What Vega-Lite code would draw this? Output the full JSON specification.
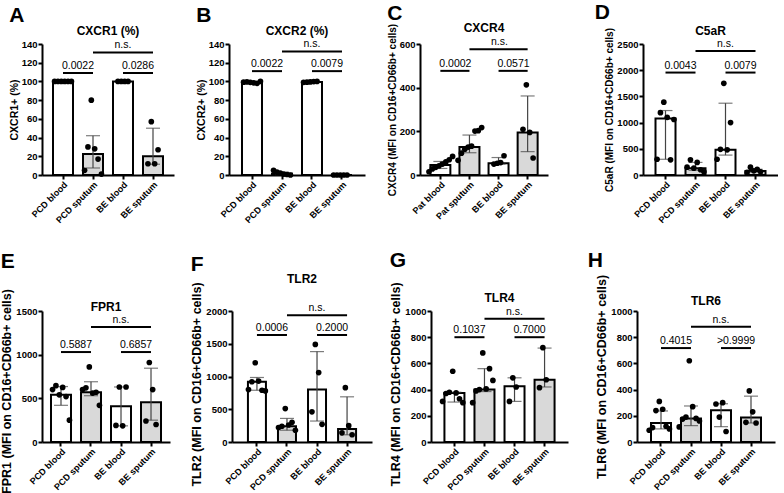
{
"$schema": "https://vega.github.io/schema/vega-lite/v6.json",
"background": "white",
"padding": {"left": 0, "top": 1, "right": 0, "bottom": 0},
"config": {
  "font": "Liberation Sans",
  "view": {"stroke": null},
  "axis": {"grid": false, "domainColor": "black", "domainWidth": 2, "tickColor": "black", "tickWidth": 2, "tickSize": 4, "labelColor": "black", "labelFont": "Liberation Sans", "labelFontWeight": "bold", "labelFontSize": 9.5, "labelPadding": 1, "titleColor": "black", "titleFont": "Liberation Sans", "titleFontWeight": "bold", "titleFontSize": 10.5, "titlePadding": 2},
  "axisX": {"labelAngle": -45, "labelFontSize": 9},
  "title": {"font": "Liberation Sans", "fontWeight": "bold", "color": "black"},
  "text": {"font": "Liberation Sans", "color": "black"}
},
"data": {"values": [
{"p":"A","k":"bar","g":"PCD blood","t":"blood","v":100,"lo":100,"hi":100},
{"p":"A","k":"bar","g":"PCD sputum","t":"sputum","v":22.5,"lo":7.5,"hi":42},
{"p":"A","k":"bar","g":"BE blood","t":"blood","v":100,"lo":100,"hi":100},
{"p":"A","k":"bar","g":"BE sputum","t":"sputum","v":20,"lo":11.5,"hi":50},
{"p":"A","k":"pt","g":"PCD blood","r":"1","v":100},{"p":"A","k":"pt","g":"PCD blood","r":"2","v":100},{"p":"A","k":"pt","g":"PCD blood","r":"3","v":100},{"p":"A","k":"pt","g":"PCD blood","r":"4","v":100},{"p":"A","k":"pt","g":"PCD blood","r":"5","v":100},{"p":"A","k":"pt","g":"PCD blood","r":"6","v":100},
{"p":"A","k":"pt","g":"PCD sputum","r":"1","v":80},{"p":"A","k":"pt","g":"PCD sputum","r":"2","v":28},{"p":"A","k":"pt","g":"PCD sputum","r":"3","v":30},{"p":"A","k":"pt","g":"PCD sputum","r":"4","v":17},{"p":"A","k":"pt","g":"PCD sputum","r":"5","v":5},{"p":"A","k":"pt","g":"PCD sputum","r":"6","v":1},
{"p":"A","k":"pt","g":"BE blood","r":"1","v":100},{"p":"A","k":"pt","g":"BE blood","r":"2","v":100},{"p":"A","k":"pt","g":"BE blood","r":"3","v":100},{"p":"A","k":"pt","g":"BE blood","r":"4","v":100},
{"p":"A","k":"pt","g":"BE sputum","r":"1","v":57},{"p":"A","k":"pt","g":"BE sputum","r":"2","v":12},{"p":"A","k":"pt","g":"BE sputum","r":"3","v":12},{"p":"A","k":"pt","g":"BE sputum","r":"4","v":27},
{"p":"A","k":"brk","g":"PCD blood","g2":"PCD sputum","v":109,"lab":"0.0022","s":"pair"},
{"p":"A","k":"brk","g":"BE blood","g2":"BE sputum","v":109,"lab":"0.0286","s":"pair"},
{"p":"A","k":"brk","g":"PCD sputum","g2":"BE sputum","v":131,"lab":"n.s.","s":"ns"},

{"p":"B","k":"bar","g":"PCD blood","t":"blood","v":99,"lo":98.5,"hi":99.5},
{"p":"B","k":"bar","g":"PCD sputum","t":"sputum","v":1.5,"lo":0.5,"hi":3},
{"p":"B","k":"bar","g":"BE blood","t":"blood","v":99.5,"lo":99,"hi":100},
{"p":"B","k":"bar","g":"BE sputum","t":"sputum","v":0,"lo":0,"hi":0},
{"p":"B","k":"pt","g":"PCD blood","r":"1","v":99},{"p":"B","k":"pt","g":"PCD blood","r":"2","v":98.5},{"p":"B","k":"pt","g":"PCD blood","r":"3","v":99.5},{"p":"B","k":"pt","g":"PCD blood","r":"4","v":98},{"p":"B","k":"pt","g":"PCD blood","r":"5","v":99.2},{"p":"B","k":"pt","g":"PCD blood","r":"6","v":100},
{"p":"B","k":"pt","g":"PCD sputum","r":"1","v":2},{"p":"B","k":"pt","g":"PCD sputum","r":"2","v":1},{"p":"B","k":"pt","g":"PCD sputum","r":"3","v":3},{"p":"B","k":"pt","g":"PCD sputum","r":"4","v":0.5},{"p":"B","k":"pt","g":"PCD sputum","r":"5","v":5},{"p":"B","k":"pt","g":"PCD sputum","r":"6","v":0},
{"p":"B","k":"pt","g":"BE blood","r":"1","v":99.5},{"p":"B","k":"pt","g":"BE blood","r":"2","v":99.8},{"p":"B","k":"pt","g":"BE blood","r":"3","v":99.2},{"p":"B","k":"pt","g":"BE blood","r":"4","v":100},{"p":"B","k":"pt","g":"BE blood","r":"5","v":99},
{"p":"B","k":"pt","g":"BE sputum","r":"1","v":0},{"p":"B","k":"pt","g":"BE sputum","r":"2","v":0},{"p":"B","k":"pt","g":"BE sputum","r":"3","v":0},{"p":"B","k":"pt","g":"BE sputum","r":"4","v":0},{"p":"B","k":"pt","g":"BE sputum","r":"5","v":0},
{"p":"B","k":"brk","g":"PCD blood","g2":"PCD sputum","v":111,"lab":"0.0022","s":"pair"},
{"p":"B","k":"brk","g":"BE blood","g2":"BE sputum","v":111,"lab":"0.0079","s":"pair"},
{"p":"B","k":"brk","g":"PCD sputum","g2":"BE sputum","v":132,"lab":"n.s.","s":"ns"},

{"p":"C","k":"bar","g":"Pat blood","t":"blood","v":46,"lo":30,"hi":62},
{"p":"C","k":"bar","g":"Pat sputum","t":"sputum","v":128,"lo":102,"hi":183},
{"p":"C","k":"bar","g":"BE blood","t":"blood","v":54,"lo":50,"hi":80},
{"p":"C","k":"bar","g":"BE sputum","t":"sputum","v":195,"lo":107,"hi":362},
{"p":"C","k":"pt","g":"Pat blood","r":"1","v":42},{"p":"C","k":"pt","g":"Pat blood","r":"2","v":50},{"p":"C","k":"pt","g":"Pat blood","r":"3","v":35},{"p":"C","k":"pt","g":"Pat blood","r":"4","v":60},{"p":"C","k":"pt","g":"Pat blood","r":"5","v":28},{"p":"C","k":"pt","g":"Pat blood","r":"6","v":70},{"p":"C","k":"pt","g":"Pat blood","r":"7","v":15},{"p":"C","k":"pt","g":"Pat blood","r":"8","v":85},
{"p":"C","k":"pt","g":"Pat sputum","r":"1","v":128},{"p":"C","k":"pt","g":"Pat sputum","r":"2","v":132},{"p":"C","k":"pt","g":"Pat sputum","r":"3","v":118},{"p":"C","k":"pt","g":"Pat sputum","r":"4","v":201},{"p":"C","k":"pt","g":"Pat sputum","r":"5","v":100},{"p":"C","k":"pt","g":"Pat sputum","r":"6","v":203},{"p":"C","k":"pt","g":"Pat sputum","r":"7","v":67},{"p":"C","k":"pt","g":"Pat sputum","r":"8","v":217},
{"p":"C","k":"pt","g":"BE blood","r":"1","v":54},{"p":"C","k":"pt","g":"BE blood","r":"2","v":57},{"p":"C","k":"pt","g":"BE blood","r":"3","v":50},{"p":"C","k":"pt","g":"BE blood","r":"4","v":88},
{"p":"C","k":"pt","g":"BE sputum","r":"1","v":413},{"p":"C","k":"pt","g":"BE sputum","r":"2","v":195},{"p":"C","k":"pt","g":"BE sputum","r":"3","v":209},{"p":"C","k":"pt","g":"BE sputum","r":"4","v":78},
{"p":"C","k":"brk","g":"Pat blood","g2":"Pat sputum","v":477,"lab":"0.0002","s":"pair"},
{"p":"C","k":"brk","g":"BE blood","g2":"BE sputum","v":477,"lab":"0.0571","s":"pair"},
{"p":"C","k":"brk","g":"Pat sputum","g2":"BE sputum","v":576,"lab":"n.s.","s":"ns"},

{"p":"D","k":"bar","g":"PCD blood","t":"blood","v":1080,"lo":300,"hi":1230},
{"p":"D","k":"bar","g":"PCD sputum","t":"sputum","v":128,"lo":90,"hi":240},
{"p":"D","k":"bar","g":"BE blood","t":"blood","v":480,"lo":380,"hi":1370},
{"p":"D","k":"bar","g":"BE sputum","t":"sputum","v":77,"lo":55,"hi":110},
{"p":"D","k":"pt","g":"PCD blood","r":"1","v":1390},{"p":"D","k":"pt","g":"PCD blood","r":"2","v":1100},{"p":"D","k":"pt","g":"PCD blood","r":"3","v":1190},{"p":"D","k":"pt","g":"PCD blood","r":"4","v":290},{"p":"D","k":"pt","g":"PCD blood","r":"5","v":300},{"p":"D","k":"pt","g":"PCD blood","r":"6","v":1060},
{"p":"D","k":"pt","g":"PCD sputum","r":"1","v":130},{"p":"D","k":"pt","g":"PCD sputum","r":"2","v":240},{"p":"D","k":"pt","g":"PCD sputum","r":"3","v":290},{"p":"D","k":"pt","g":"PCD sputum","r":"4","v":100},{"p":"D","k":"pt","g":"PCD sputum","r":"5","v":150},{"p":"D","k":"pt","g":"PCD sputum","r":"6","v":60},
{"p":"D","k":"pt","g":"BE blood","r":"1","v":1750},{"p":"D","k":"pt","g":"BE blood","r":"2","v":480},{"p":"D","k":"pt","g":"BE blood","r":"3","v":490},{"p":"D","k":"pt","g":"BE blood","r":"4","v":1000},{"p":"D","k":"pt","g":"BE blood","r":"5","v":300},
{"p":"D","k":"pt","g":"BE sputum","r":"1","v":80},{"p":"D","k":"pt","g":"BE sputum","r":"2","v":110},{"p":"D","k":"pt","g":"BE sputum","r":"3","v":150},{"p":"D","k":"pt","g":"BE sputum","r":"4","v":60},{"p":"D","k":"pt","g":"BE sputum","r":"5","v":50},
{"p":"D","k":"brk","g":"PCD blood","g2":"PCD sputum","v":1955,"lab":"0.0043","s":"pair"},
{"p":"D","k":"brk","g":"BE blood","g2":"BE sputum","v":1955,"lab":"0.0079","s":"pair"},
{"p":"D","k":"brk","g":"PCD sputum","g2":"BE sputum","v":2365,"lab":"n.s.","s":"ns"},

{"p":"E","k":"bar","g":"PCD blood","t":"blood","v":540,"lo":420,"hi":635},
{"p":"E","k":"bar","g":"PCD sputum","t":"sputum","v":570,"lo":530,"hi":690},
{"p":"E","k":"bar","g":"BE blood","t":"blood","v":410,"lo":185,"hi":630},
{"p":"E","k":"bar","g":"BE sputum","t":"sputum","v":455,"lo":250,"hi":845},
{"p":"E","k":"pt","g":"PCD blood","r":"1","v":540},{"p":"E","k":"pt","g":"PCD blood","r":"2","v":625},{"p":"E","k":"pt","g":"PCD blood","r":"3","v":645},{"p":"E","k":"pt","g":"PCD blood","r":"4","v":520},{"p":"E","k":"pt","g":"PCD blood","r":"5","v":600},{"p":"E","k":"pt","g":"PCD blood","r":"6","v":250},
{"p":"E","k":"pt","g":"PCD sputum","r":"1","v":860},{"p":"E","k":"pt","g":"PCD sputum","r":"2","v":560},{"p":"E","k":"pt","g":"PCD sputum","r":"3","v":620},{"p":"E","k":"pt","g":"PCD sputum","r":"4","v":570},{"p":"E","k":"pt","g":"PCD sputum","r":"5","v":600},{"p":"E","k":"pt","g":"PCD sputum","r":"6","v":420},
{"p":"E","k":"pt","g":"BE blood","r":"1","v":630},{"p":"E","k":"pt","g":"BE blood","r":"2","v":185},{"p":"E","k":"pt","g":"BE blood","r":"3","v":190},{"p":"E","k":"pt","g":"BE blood","r":"4","v":630},
{"p":"E","k":"pt","g":"BE sputum","r":"1","v":910},{"p":"E","k":"pt","g":"BE sputum","r":"2","v":600},{"p":"E","k":"pt","g":"BE sputum","r":"3","v":240},{"p":"E","k":"pt","g":"BE sputum","r":"4","v":200},
{"p":"E","k":"brk","g":"PCD blood","g2":"PCD sputum","v":1030,"lab":"0.5887","s":"pair"},
{"p":"E","k":"brk","g":"BE blood","g2":"BE sputum","v":1030,"lab":"0.6857","s":"pair"},
{"p":"E","k":"brk","g":"PCD sputum","g2":"BE sputum","v":1317,"lab":"n.s.","s":"ns"},

{"p":"F","k":"bar","g":"PCD blood","t":"blood","v":920,"lo":790,"hi":985},
{"p":"F","k":"bar","g":"PCD sputum","t":"sputum","v":240,"lo":180,"hi":360},
{"p":"F","k":"bar","g":"BE blood","t":"blood","v":800,"lo":320,"hi":1380},
{"p":"F","k":"bar","g":"BE sputum","t":"sputum","v":200,"lo":110,"hi":690},
{"p":"F","k":"pt","g":"PCD blood","r":"1","v":1210},{"p":"F","k":"pt","g":"PCD blood","r":"2","v":930},{"p":"F","k":"pt","g":"PCD blood","r":"3","v":920},{"p":"F","k":"pt","g":"PCD blood","r":"4","v":790},{"p":"F","k":"pt","g":"PCD blood","r":"5","v":800},{"p":"F","k":"pt","g":"PCD blood","r":"6","v":780},
{"p":"F","k":"pt","g":"PCD sputum","r":"1","v":510},{"p":"F","k":"pt","g":"PCD sputum","r":"2","v":260},{"p":"F","k":"pt","g":"PCD sputum","r":"3","v":240},{"p":"F","k":"pt","g":"PCD sputum","r":"4","v":300},{"p":"F","k":"pt","g":"PCD sputum","r":"5","v":220},{"p":"F","k":"pt","g":"PCD sputum","r":"6","v":180},
{"p":"F","k":"pt","g":"BE blood","r":"1","v":1490},{"p":"F","k":"pt","g":"BE blood","r":"2","v":1060},{"p":"F","k":"pt","g":"BE blood","r":"3","v":460},{"p":"F","k":"pt","g":"BE blood","r":"4","v":270},
{"p":"F","k":"pt","g":"BE sputum","r":"1","v":830},{"p":"F","k":"pt","g":"BE sputum","r":"2","v":250},{"p":"F","k":"pt","g":"BE sputum","r":"3","v":140},{"p":"F","k":"pt","g":"BE sputum","r":"4","v":110},
{"p":"F","k":"brk","g":"PCD blood","g2":"PCD sputum","v":1634,"lab":"0.0006","s":"pair"},
{"p":"F","k":"brk","g":"BE blood","g2":"BE sputum","v":1634,"lab":"0.2000","s":"pair"},
{"p":"F","k":"brk","g":"PCD sputum","g2":"BE sputum","v":1934,"lab":"n.s.","s":"ns"},

{"p":"G","k":"bar","g":"PCD blood","t":"blood","v":375,"lo":305,"hi":380},
{"p":"G","k":"bar","g":"PCD sputum","t":"sputum","v":400,"lo":385,"hi":560},
{"p":"G","k":"bar","g":"BE blood","t":"blood","v":425,"lo":310,"hi":490},
{"p":"G","k":"bar","g":"BE sputum","t":"sputum","v":475,"lo":420,"hi":717},
{"p":"G","k":"pt","g":"PCD blood","r":"1","v":540},{"p":"G","k":"pt","g":"PCD blood","r":"2","v":375},{"p":"G","k":"pt","g":"PCD blood","r":"3","v":380},{"p":"G","k":"pt","g":"PCD blood","r":"4","v":330},{"p":"G","k":"pt","g":"PCD blood","r":"5","v":370},{"p":"G","k":"pt","g":"PCD blood","r":"6","v":300},{"p":"G","k":"pt","g":"PCD blood","r":"7","v":310},
{"p":"G","k":"pt","g":"PCD sputum","r":"1","v":680},{"p":"G","k":"pt","g":"PCD sputum","r":"2","v":405},{"p":"G","k":"pt","g":"PCD sputum","r":"3","v":400},{"p":"G","k":"pt","g":"PCD sputum","r":"4","v":560},{"p":"G","k":"pt","g":"PCD sputum","r":"5","v":390},{"p":"G","k":"pt","g":"PCD sputum","r":"6","v":470},{"p":"G","k":"pt","g":"PCD sputum","r":"7","v":300},
{"p":"G","k":"pt","g":"BE blood","r":"1","v":490},{"p":"G","k":"pt","g":"BE blood","r":"2","v":420},{"p":"G","k":"pt","g":"BE blood","r":"3","v":310},
{"p":"G","k":"pt","g":"BE sputum","r":"1","v":720},{"p":"G","k":"pt","g":"BE sputum","r":"2","v":475},{"p":"G","k":"pt","g":"BE sputum","r":"3","v":415},
{"p":"G","k":"brk","g":"PCD blood","g2":"PCD sputum","v":800,"lab":"0.1037","s":"pair"},
{"p":"G","k":"brk","g":"BE blood","g2":"BE sputum","v":800,"lab":"0.7000","s":"pair"},
{"p":"G","k":"brk","g":"PCD sputum","g2":"BE sputum","v":941,"lab":"n.s.","s":"ns"},

{"p":"H","k":"bar","g":"PCD blood","t":"blood","v":145,"lo":100,"hi":237},
{"p":"H","k":"bar","g":"PCD sputum","t":"sputum","v":180,"lo":125,"hi":275},
{"p":"H","k":"bar","g":"BE blood","t":"blood","v":242,"lo":117,"hi":292},
{"p":"H","k":"bar","g":"BE sputum","t":"sputum","v":187,"lo":145,"hi":350},
{"p":"H","k":"pt","g":"PCD blood","r":"1","v":310},{"p":"H","k":"pt","g":"PCD blood","r":"2","v":250},{"p":"H","k":"pt","g":"PCD blood","r":"3","v":240},{"p":"H","k":"pt","g":"PCD blood","r":"4","v":120},{"p":"H","k":"pt","g":"PCD blood","r":"5","v":110},{"p":"H","k":"pt","g":"PCD blood","r":"6","v":100},{"p":"H","k":"pt","g":"PCD blood","r":"7","v":90},
{"p":"H","k":"pt","g":"PCD sputum","r":"1","v":620},{"p":"H","k":"pt","g":"PCD sputum","r":"2","v":270},{"p":"H","k":"pt","g":"PCD sputum","r":"3","v":190},{"p":"H","k":"pt","g":"PCD sputum","r":"4","v":180},{"p":"H","k":"pt","g":"PCD sputum","r":"5","v":175},{"p":"H","k":"pt","g":"PCD sputum","r":"6","v":160},{"p":"H","k":"pt","g":"PCD sputum","r":"7","v":115},
{"p":"H","k":"pt","g":"BE blood","r":"1","v":190},{"p":"H","k":"pt","g":"BE blood","r":"2","v":300},{"p":"H","k":"pt","g":"BE blood","r":"3","v":290},{"p":"H","k":"pt","g":"BE blood","r":"4","v":80},
{"p":"H","k":"pt","g":"BE sputum","r":"1","v":390},{"p":"H","k":"pt","g":"BE sputum","r":"2","v":230},{"p":"H","k":"pt","g":"BE sputum","r":"3","v":150},{"p":"H","k":"pt","g":"BE sputum","r":"4","v":145},
{"p":"H","k":"brk","g":"PCD blood","g2":"PCD sputum","v":717,"lab":"0.4015","s":"pair"},
{"p":"H","k":"brk","g":"BE blood","g2":"BE sputum","v":717,"lab":">0.9999","s":"pair"},
{"p":"H","k":"brk","g":"PCD sputum","g2":"BE sputum","v":880,"lab":"n.s.","s":"ns"}
]},
"spacing": 24,
"vconcat": [
{"spacing": 46, "hconcat": [
 {"spacing": 22, "hconcat": [
  {"title": {"text": "A", "anchor": "start", "fontSize": 21, "offset": -1},
   "vconcat": [{"title": {"text": "CXCR1 (%)", "fontSize": 12, "offset": 1, "anchor": "middle", "frame": "group"},
    "width": 132, "height": 131,
    "transform": [{"filter": "datum.p === 'A'"}],
    "encoding": {
     "x": {"field": "g", "type": "nominal", "title": null, "scale": {"domain": ["PCD blood","PCD sputum","BE blood","BE sputum"], "paddingInner": 0.1, "paddingOuter": 0.25}},
     "y": {"field": "v", "type": "quantitative", "title": "CXCR1+ (%)", "scale": {"domain": [0,140], "nice": false}, "axis": {"values": [0,20,40,60,80,100,120,140], "format": "d"}}},
    "layer": [
     {"transform": [{"filter": "datum.k === 'bar'"}], "mark": {"type": "bar", "width": 20, "stroke": "black", "strokeWidth": 2}, "encoding": {"fill": {"field": "t", "type": "nominal", "scale": {"domain": ["blood","sputum"], "range": ["#ffffff","#d9d9d9"]}, "legend": null}}},
     {"transform": [{"filter": "datum.k === 'bar'"}], "mark": {"type": "errorbar", "ticks": true, "size": 14, "thickness": 1.2, "color": "#444444"}, "encoding": {"y": {"field": "lo", "type": "quantitative", "title": "CXCR1+ (%)"}, "y2": {"field": "hi"}}},
     {"transform": [{"filter": "datum.k === 'pt'"}], "mark": {"type": "circle", "color": "black", "size": 32, "opacity": 1}, "encoding": {"xOffset": {"field": "r", "type": "nominal", "scale": {"domain": ["7","5","3","1","2","4","6","8"]}}}},
     {"transform": [{"filter": "datum.k === 'brk'"}], "mark": {"type": "rule", "color": "black", "strokeWidth": 2}, "encoding": {"x2": {"field": "g2"}}},
     {"transform": [{"filter": "datum.s === 'pair'"}], "mark": {"type": "text", "dx": 15, "dy": -2, "baseline": "bottom", "fontSize": 10.5}, "encoding": {"text": {"field": "lab"}}},
     {"transform": [{"filter": "datum.s === 'ns'"}], "mark": {"type": "text", "dx": 30, "dy": -2, "baseline": "bottom", "fontSize": 10.5}, "encoding": {"text": {"field": "lab"}}}
    ]}]},
  {"title": {"text": "B", "anchor": "start", "fontSize": 21, "offset": -1},
   "vconcat": [{"title": {"text": "CXCR2 (%)", "fontSize": 12, "offset": 1, "anchor": "middle", "frame": "group"},
    "width": 136, "height": 131,
    "transform": [{"filter": "datum.p === 'B'"}],
    "encoding": {
     "x": {"field": "g", "type": "nominal", "title": null, "scale": {"domain": ["PCD blood","PCD sputum","BE blood","BE sputum"], "paddingInner": 0.1, "paddingOuter": 0.317}},
     "y": {"field": "v", "type": "quantitative", "title": "CXCR2+ (%)", "scale": {"domain": [0,140], "nice": false}, "axis": {"values": [0,20,40,60,80,100,120,140], "format": "d"}}},
    "layer": [
     {"transform": [{"filter": "datum.k === 'bar'"}], "mark": {"type": "bar", "width": 20, "stroke": "black", "strokeWidth": 2}, "encoding": {"fill": {"field": "t", "type": "nominal", "scale": {"domain": ["blood","sputum"], "range": ["#ffffff","#d9d9d9"]}, "legend": null}}},
     {"transform": [{"filter": "datum.k === 'bar'"}], "mark": {"type": "errorbar", "ticks": true, "size": 14, "thickness": 1.2, "color": "#444444"}, "encoding": {"y": {"field": "lo", "type": "quantitative", "title": "CXCR2+ (%)"}, "y2": {"field": "hi"}}},
     {"transform": [{"filter": "datum.k === 'pt'"}], "mark": {"type": "circle", "color": "black", "size": 32, "opacity": 1}, "encoding": {"xOffset": {"field": "r", "type": "nominal", "scale": {"domain": ["7","5","3","1","2","4","6","8"]}}}},
     {"transform": [{"filter": "datum.k === 'brk'"}], "mark": {"type": "rule", "color": "black", "strokeWidth": 2}, "encoding": {"x2": {"field": "g2"}}},
     {"transform": [{"filter": "datum.s === 'pair'"}], "mark": {"type": "text", "dx": 15, "dy": -2, "baseline": "bottom", "fontSize": 10.5}, "encoding": {"text": {"field": "lab"}}},
     {"transform": [{"filter": "datum.s === 'ns'"}], "mark": {"type": "text", "dx": 30, "dy": -2, "baseline": "bottom", "fontSize": 10.5}, "encoding": {"text": {"field": "lab"}}}
    ]}]},
  {"title": {"text": "C", "anchor": "start", "fontSize": 21, "offset": -2},
   "vconcat": [{"title": {"text": "CXCR4", "fontSize": 12, "offset": -11.5, "anchor": "middle", "frame": "group"},
    "width": 128, "height": 131,
    "transform": [{"filter": "datum.p === 'C'"}],
    "encoding": {
     "x": {"field": "g", "type": "nominal", "title": null, "scale": {"domain": ["Pat blood","Pat sputum","BE blood","BE sputum"], "paddingInner": 0.1, "paddingOuter": 0.25}},
     "y": {"field": "v", "type": "quantitative", "title": "CXCR4 (MFI on CD16+CD66b+ cells)", "scale": {"domain": [0,600], "nice": false}, "axis": {"values": [0,200,400,600], "format": "d", "titleFontSize": 10}}},
    "layer": [
     {"transform": [{"filter": "datum.k === 'bar'"}], "mark": {"type": "bar", "width": 20, "stroke": "black", "strokeWidth": 2}, "encoding": {"fill": {"field": "t", "type": "nominal", "scale": {"domain": ["blood","sputum"], "range": ["#ffffff","#d9d9d9"]}, "legend": null}}},
     {"transform": [{"filter": "datum.k === 'bar'"}], "mark": {"type": "errorbar", "ticks": true, "size": 14, "thickness": 1.2, "color": "#444444"}, "encoding": {"y": {"field": "lo", "type": "quantitative", "title": "CXCR4 (MFI on CD16+CD66b+ cells)"}, "y2": {"field": "hi"}}},
     {"transform": [{"filter": "datum.k === 'pt'"}], "mark": {"type": "circle", "color": "black", "size": 32, "opacity": 1}, "encoding": {"xOffset": {"field": "r", "type": "nominal", "scale": {"domain": ["7","5","3","1","2","4","6","8"]}}}},
     {"transform": [{"filter": "datum.k === 'brk'"}], "mark": {"type": "rule", "color": "black", "strokeWidth": 2}, "encoding": {"x2": {"field": "g2"}}},
     {"transform": [{"filter": "datum.s === 'pair'"}], "mark": {"type": "text", "dx": 15, "dy": -2, "baseline": "bottom", "fontSize": 10.5}, "encoding": {"text": {"field": "lab"}}},
     {"transform": [{"filter": "datum.s === 'ns'"}], "mark": {"type": "text", "dx": 30, "dy": -2, "baseline": "bottom", "fontSize": 10.5}, "encoding": {"text": {"field": "lab"}}}
    ]}]}
 ]},
 {"title": {"text": "D", "anchor": "start", "fontSize": 21, "offset": 2, "dx": -10},
  "vconcat": [{"title": {"text": "C5aR", "fontSize": 12, "offset": -11.5, "anchor": "middle", "frame": "group"},
   "width": 135, "height": 131,
   "transform": [{"filter": "datum.p === 'D'"}],
   "encoding": {
    "x": {"field": "g", "type": "nominal", "title": null, "scale": {"domain": ["PCD blood","PCD sputum","BE blood","BE sputum"], "paddingInner": 0.1, "paddingOuter": 0.3}},
    "y": {"field": "v", "type": "quantitative", "title": "C5aR (MFI on  CD16+CD66b+ cells)", "scale": {"domain": [0,2500], "nice": false}, "axis": {"values": [0,500,1000,1500,2000,2500], "format": "d", "titleFontSize": 10}}},
   "layer": [
    {"transform": [{"filter": "datum.k === 'bar'"}], "mark": {"type": "bar", "width": 20, "stroke": "black", "strokeWidth": 2}, "encoding": {"fill": {"field": "t", "type": "nominal", "scale": {"domain": ["blood","sputum"], "range": ["#ffffff","#d9d9d9"]}, "legend": null}}},
    {"transform": [{"filter": "datum.k === 'bar'"}], "mark": {"type": "errorbar", "ticks": true, "size": 14, "thickness": 1.2, "color": "#444444"}, "encoding": {"y": {"field": "lo", "type": "quantitative", "title": "C5aR (MFI on  CD16+CD66b+ cells)"}, "y2": {"field": "hi"}}},
    {"transform": [{"filter": "datum.k === 'pt'"}], "mark": {"type": "circle", "color": "black", "size": 32, "opacity": 1}, "encoding": {"xOffset": {"field": "r", "type": "nominal", "scale": {"domain": ["7","5","3","1","2","4","6","8"]}}}},
    {"transform": [{"filter": "datum.k === 'brk'"}], "mark": {"type": "rule", "color": "black", "strokeWidth": 2}, "encoding": {"x2": {"field": "g2"}}},
    {"transform": [{"filter": "datum.s === 'pair'"}], "mark": {"type": "text", "dx": 15, "dy": -2, "baseline": "bottom", "fontSize": 10.5}, "encoding": {"text": {"field": "lab"}}},
    {"transform": [{"filter": "datum.s === 'ns'"}], "mark": {"type": "text", "dx": 30, "dy": -2, "baseline": "bottom", "fontSize": 10.5}, "encoding": {"text": {"field": "lab"}}}
   ]}]}
]},
{"spacing": 19, "hconcat": [
 {"spacing": 20, "hconcat": [
  {"title": {"text": "E", "anchor": "start", "fontSize": 21, "offset": 17},
   "vconcat": [{"title": {"text": "FPR1", "fontSize": 12, "offset": -25, "anchor": "middle", "frame": "group"},
    "width": 128, "height": 131,
    "transform": [{"filter": "datum.p === 'E'"}],
    "encoding": {
     "x": {"field": "g", "type": "nominal", "title": null, "scale": {"domain": ["PCD blood","PCD sputum","BE blood","BE sputum"], "paddingInner": 0.1, "paddingOuter": 0.183}},
     "y": {"field": "v", "type": "quantitative", "title": "FPR1 (MFI on CD16+CD66b+ cells)", "scale": {"domain": [0,1500], "nice": false}, "axis": {"values": [0,500,1000,1500], "format": "d", "titleFontSize": 12.5, "titleY": 80}}},
    "layer": [
     {"transform": [{"filter": "datum.k === 'bar'"}], "mark": {"type": "bar", "width": 20, "stroke": "black", "strokeWidth": 2}, "encoding": {"fill": {"field": "t", "type": "nominal", "scale": {"domain": ["blood","sputum"], "range": ["#ffffff","#d9d9d9"]}, "legend": null}}},
     {"transform": [{"filter": "datum.k === 'bar'"}], "mark": {"type": "errorbar", "ticks": true, "size": 14, "thickness": 1.2, "color": "#444444"}, "encoding": {"y": {"field": "lo", "type": "quantitative", "title": "FPR1 (MFI on CD16+CD66b+ cells)"}, "y2": {"field": "hi"}}},
     {"transform": [{"filter": "datum.k === 'pt'"}], "mark": {"type": "circle", "color": "black", "size": 32, "opacity": 1}, "encoding": {"xOffset": {"field": "r", "type": "nominal", "scale": {"domain": ["7","5","3","1","2","4","6","8"]}}}},
     {"transform": [{"filter": "datum.k === 'brk'"}], "mark": {"type": "rule", "color": "black", "strokeWidth": 2}, "encoding": {"x2": {"field": "g2"}}},
     {"transform": [{"filter": "datum.s === 'pair'"}], "mark": {"type": "text", "dx": 15, "dy": -2, "baseline": "bottom", "fontSize": 10.5}, "encoding": {"text": {"field": "lab"}}},
     {"transform": [{"filter": "datum.s === 'ns'"}], "mark": {"type": "text", "dx": 30, "dy": -2, "baseline": "bottom", "fontSize": 10.5}, "encoding": {"text": {"field": "lab"}}}
    ]}]},
  {"spacing": 17, "hconcat": [
   {"title": {"text": "F", "anchor": "start", "fontSize": 21, "offset": -2},
    "vconcat": [{"title": {"text": "TLR2", "fontSize": 12, "offset": -4, "anchor": "middle", "frame": "group"},
     "width": 140, "height": 131,
     "transform": [{"filter": "datum.p === 'F'"}],
     "encoding": {
      "x": {"field": "g", "type": "nominal", "title": null, "scale": {"domain": ["PCD blood","PCD sputum","BE blood","BE sputum"], "paddingInner": 0.1, "paddingOuter": 0.38}},
      "y": {"field": "v", "type": "quantitative", "title": "TLR2 (MFI on CD16+CD66b+ cells)", "scale": {"domain": [0,2000], "nice": false}, "axis": {"values": [0,500,1000,1500,2000], "format": "d", "titleFontSize": 12.5, "titleY": 73}}},
     "layer": [
      {"transform": [{"filter": "datum.k === 'bar'"}], "mark": {"type": "bar", "width": 18, "stroke": "black", "strokeWidth": 2}, "encoding": {"fill": {"field": "t", "type": "nominal", "scale": {"domain": ["blood","sputum"], "range": ["#ffffff","#d9d9d9"]}, "legend": null}}},
      {"transform": [{"filter": "datum.k === 'bar'"}], "mark": {"type": "errorbar", "ticks": true, "size": 14, "thickness": 1.2, "color": "#444444"}, "encoding": {"y": {"field": "lo", "type": "quantitative", "title": "TLR2 (MFI on CD16+CD66b+ cells)"}, "y2": {"field": "hi"}}},
      {"transform": [{"filter": "datum.k === 'pt'"}], "mark": {"type": "circle", "color": "black", "size": 32, "opacity": 1}, "encoding": {"xOffset": {"field": "r", "type": "nominal", "scale": {"domain": ["7","5","3","1","2","4","6","8"]}}}},
      {"transform": [{"filter": "datum.k === 'brk'"}], "mark": {"type": "rule", "color": "black", "strokeWidth": 2}, "encoding": {"x2": {"field": "g2"}}},
      {"transform": [{"filter": "datum.s === 'pair'"}], "mark": {"type": "text", "dx": 15, "dy": -2, "baseline": "bottom", "fontSize": 10.5}, "encoding": {"text": {"field": "lab"}}},
      {"transform": [{"filter": "datum.s === 'ns'"}], "mark": {"type": "text", "dx": 30, "dy": -2, "baseline": "bottom", "fontSize": 10.5}, "encoding": {"text": {"field": "lab"}}}
     ]}]},
   {"title": {"text": "G", "anchor": "start", "fontSize": 21, "offset": 11},
    "vconcat": [{"title": {"text": "TLR4", "fontSize": 12, "offset": -23, "anchor": "middle", "frame": "group"},
     "width": 137, "height": 131,
     "transform": [{"filter": "datum.p === 'G'"}],
     "encoding": {
      "x": {"field": "g", "type": "nominal", "title": null, "scale": {"domain": ["PCD blood","PCD sputum","BE blood","BE sputum"], "paddingInner": 0.1, "paddingOuter": 0.33}},
      "y": {"field": "v", "type": "quantitative", "title": "TLR4 (MFI on CD16+CD66b+ cells)", "scale": {"domain": [0,1000], "nice": false}, "axis": {"values": [0,200,400,600,800,1000], "format": "d", "titleFontSize": 12.5, "titleY": 73}}},
     "layer": [
      {"transform": [{"filter": "datum.k === 'bar'"}], "mark": {"type": "bar", "width": 20, "stroke": "black", "strokeWidth": 2}, "encoding": {"fill": {"field": "t", "type": "nominal", "scale": {"domain": ["blood","sputum"], "range": ["#ffffff","#d9d9d9"]}, "legend": null}}},
      {"transform": [{"filter": "datum.k === 'bar'"}], "mark": {"type": "errorbar", "ticks": true, "size": 14, "thickness": 1.2, "color": "#444444"}, "encoding": {"y": {"field": "lo", "type": "quantitative", "title": "TLR4 (MFI on CD16+CD66b+ cells)"}, "y2": {"field": "hi"}}},
      {"transform": [{"filter": "datum.k === 'pt'"}], "mark": {"type": "circle", "color": "black", "size": 32, "opacity": 1}, "encoding": {"xOffset": {"field": "r", "type": "nominal", "scale": {"domain": ["7","5","3","1","2","4","6","8"]}}}},
      {"transform": [{"filter": "datum.k === 'brk'"}], "mark": {"type": "rule", "color": "black", "strokeWidth": 2}, "encoding": {"x2": {"field": "g2"}}},
      {"transform": [{"filter": "datum.s === 'pair'"}], "mark": {"type": "text", "dx": 15, "dy": -2, "baseline": "bottom", "fontSize": 10.5}, "encoding": {"text": {"field": "lab"}}},
      {"transform": [{"filter": "datum.s === 'ns'"}], "mark": {"type": "text", "dx": 30, "dy": -2, "baseline": "bottom", "fontSize": 10.5}, "encoding": {"text": {"field": "lab"}}}
     ]}]}
  ]}
 ]},
 {"title": {"text": "H", "anchor": "start", "fontSize": 21, "offset": 3.5, "dx": -8},
  "vconcat": [{"title": {"text": "TLR6", "fontSize": 12, "offset": -34, "anchor": "middle", "frame": "group"},
   "width": 138, "height": 131,
   "transform": [{"filter": "datum.p === 'H'"}],
   "encoding": {
    "x": {"field": "g", "type": "nominal", "title": null, "scale": {"domain": ["PCD blood","PCD sputum","BE blood","BE sputum"], "paddingInner": 0.1, "paddingOuter": 0.35}},
    "y": {"field": "v", "type": "quantitative", "title": "TLR6 (MFI on CD16+CD66b+ cells)", "scale": {"domain": [0,1000], "nice": false}, "axis": {"values": [0,200,400,600,800,1000], "format": "d", "titleFontSize": 12.5}}},
   "layer": [
    {"transform": [{"filter": "datum.k === 'bar'"}], "mark": {"type": "bar", "width": 20, "stroke": "black", "strokeWidth": 2}, "encoding": {"fill": {"field": "t", "type": "nominal", "scale": {"domain": ["blood","sputum"], "range": ["#ffffff","#d9d9d9"]}, "legend": null}}},
    {"transform": [{"filter": "datum.k === 'bar'"}], "mark": {"type": "errorbar", "ticks": true, "size": 14, "thickness": 1.2, "color": "#444444"}, "encoding": {"y": {"field": "lo", "type": "quantitative", "title": "TLR6 (MFI on CD16+CD66b+ cells)"}, "y2": {"field": "hi"}}},
    {"transform": [{"filter": "datum.k === 'pt'"}], "mark": {"type": "circle", "color": "black", "size": 32, "opacity": 1}, "encoding": {"xOffset": {"field": "r", "type": "nominal", "scale": {"domain": ["7","5","3","1","2","4","6","8"]}}}},
    {"transform": [{"filter": "datum.k === 'brk'"}], "mark": {"type": "rule", "color": "black", "strokeWidth": 2}, "encoding": {"x2": {"field": "g2"}}},
    {"transform": [{"filter": "datum.s === 'pair'"}], "mark": {"type": "text", "dx": 15, "dy": -2, "baseline": "bottom", "fontSize": 10.5}, "encoding": {"text": {"field": "lab"}}},
    {"transform": [{"filter": "datum.s === 'ns'"}], "mark": {"type": "text", "dx": 30, "dy": -2, "baseline": "bottom", "fontSize": 10.5}, "encoding": {"text": {"field": "lab"}}}
   ]}]}
]}
]
}
